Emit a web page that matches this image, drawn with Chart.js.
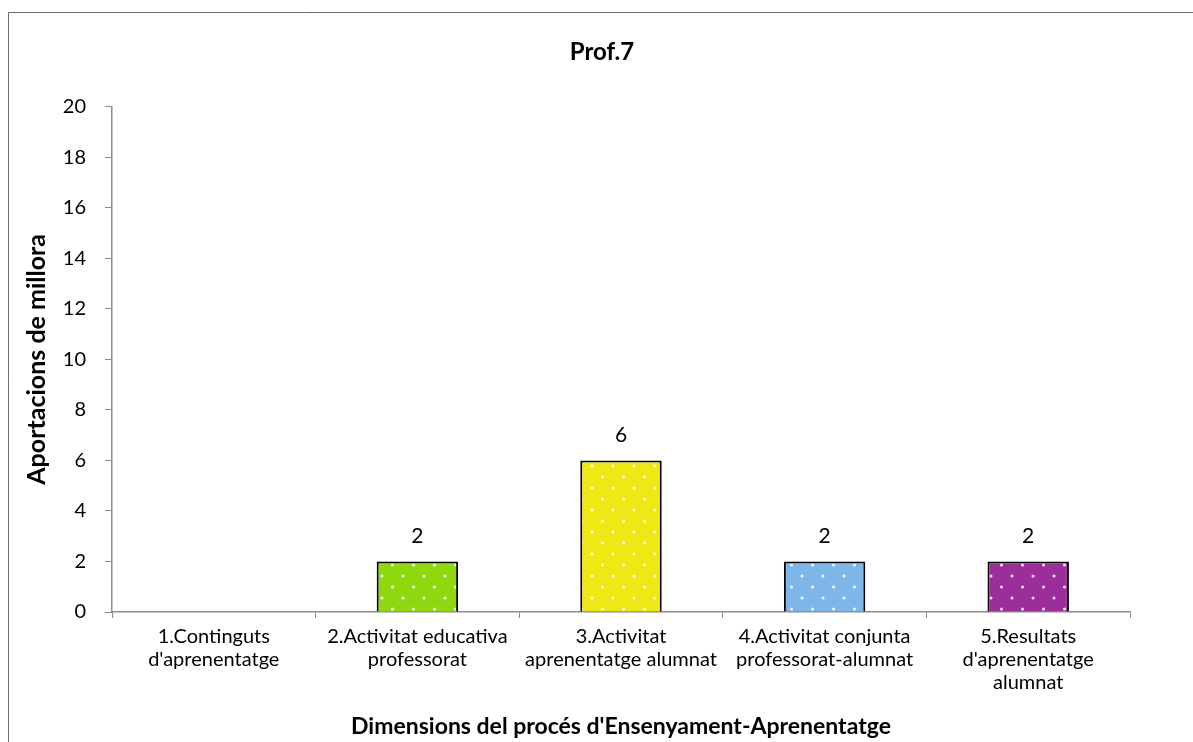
<!DOCTYPE html>
<html>
<head>
<meta charset="utf-8">
<script src="https://cdn.jsdelivr.net/npm/chart.js@4"></script>
<style>
  html, body { margin: 0; padding: 0; background: #fff; }
  #wrap { width: 1193px; height: 742px; }
</style>
</head>
<body>
<div id="wrap"><canvas id="chart" width="1193" height="742"></canvas></div>
<script>
const categories = [
  ['1.Continguts', "d'aprenentatge"],
  ['2.Activitat educativa', 'professorat'],
  ['3.Activitat', 'aprenentatge alumnat'],
  ['4.Activitat conjunta', 'professorat-alumnat'],
  ['5.Resultats', "d'aprenentatge", 'alumnat']
];
const values = [0, 2, 6, 2, 2];
const barColors = ['#8fd80f', '#8fd80f', '#f0e814', '#7fb6ea', '#9c2e9c'];
const yTicks = [0, 2, 4, 6, 8, 10, 12, 14, 16, 18, 20];

const FONT = 'Lato, "Open Sans", sans-serif';

// dotted fill like the office "small confetti" pattern
function dotted(color) {
  const c = document.createElement('canvas');
  c.width = 21; c.height = 22;
  const g = c.getContext('2d');
  g.fillStyle = color;
  g.fillRect(0, 0, 21, 22);
  g.fillStyle = 'rgba(255,255,255,0.92)';
  [[4, 4], [14.5, 15]].forEach(([x, y]) => {
    g.beginPath(); g.arc(x, y, 1.5, 0, Math.PI * 2); g.fill();
  });
  return document.getElementById('chart').getContext('2d').createPattern(c, 'repeat');
}

const frame = {
  id: 'frame',
  afterDraw(chart) {
    const ctx = chart.ctx;
    ctx.save();
    ctx.strokeStyle = '#6b6b6b';
    ctx.lineWidth = 1;
    ctx.beginPath();
    ctx.moveTo(8.5, 742); ctx.lineTo(8.5, 12.5); ctx.lineTo(1193, 12.5);
    ctx.stroke();
    ctx.restore();
  }
};

const valueLabels = {
  id: 'valueLabels',
  afterDatasetsDraw(chart) {
    const ctx = chart.ctx;
    const meta = chart.getDatasetMeta(0);
    ctx.save();
    ctx.font = '21px ' + FONT;
    ctx.fillStyle = '#000';
    ctx.textAlign = 'center';
    ctx.textBaseline = 'alphabetic';
    meta.data.forEach((bar, i) => {
      if (!values[i]) return;
      ctx.fillText(String(values[i]), bar.x, bar.y - 18);
    });
    ctx.restore();
  }
};

new Chart(document.getElementById('chart'), {
  type: 'bar',
  data: {
    labels: categories,
    datasets: [{
      data: values,
      backgroundColor: barColors.map(dotted),
      borderColor: '#000',
      borderWidth: 2,
      borderSkipped: 'bottom',
      barPercentage: 0.4,
      categoryPercentage: 1
    }]
  },
  options: {
    responsive: false,
    animation: false,
    layout: { padding: { left: 11, right: 0, top: 0, bottom: 0 } },
    plugins: {
      legend: { display: false },
      tooltip: { enabled: false },
      title: {
        display: true,
        text: 'Prof.7',
        color: '#000',
        font: { family: FONT, size: 24, weight: 'bold' },
        padding: { top: 38, bottom: 40 }
      }
    },
    scales: {
      x: {
        grid: { drawOnChartArea: false, color: '#8c8c8c', tickLength: 6, offset: true },
        border: { color: '#8c8c8c', width: 1.5 },
        ticks: {
          color: '#000',
          font: { family: FONT, size: 20, lineHeight: 1.15 },
          padding: 7,
          maxRotation: 0,
          autoSkip: false
        },
        title: {
          display: true,
          text: "Dimensions del procés d'Ensenyament-Aprenentatge",
          color: '#000',
          font: { family: FONT, size: 23, weight: 'bold' },
          padding: { top: 4, bottom: 2 }
        },
        afterFit(s) { s.height = 130; }
      },
      y: {
        min: 0,
        max: 20,
        afterBuildTicks(s) { s.ticks = yTicks.map(v => ({ value: v })); },
        grid: { drawOnChartArea: false, color: '#8c8c8c', tickLength: 7 },
        border: { color: '#8c8c8c', width: 1.5 },
        ticks: {
          color: '#000',
          font: { family: FONT, size: 20 },
          padding: 19
        },
        title: {
          display: true,
          text: 'Aportacions de millora',
          color: '#000',
          font: { family: FONT, size: 25, weight: 'bold' },
          padding: { top: 11, bottom: 4 }
        },
        afterFit(s) { s.width = 101; }
      },
      // empty right margin so the chart title centres on the whole frame
      spare: {
        position: 'right',
        grid: { display: false },
        border: { display: false },
        ticks: { display: false },
        afterFit(s) { s.width = 63; }
      }
    }
  },
  plugins: [frame, valueLabels]
});
</script>
</body>
</html>
